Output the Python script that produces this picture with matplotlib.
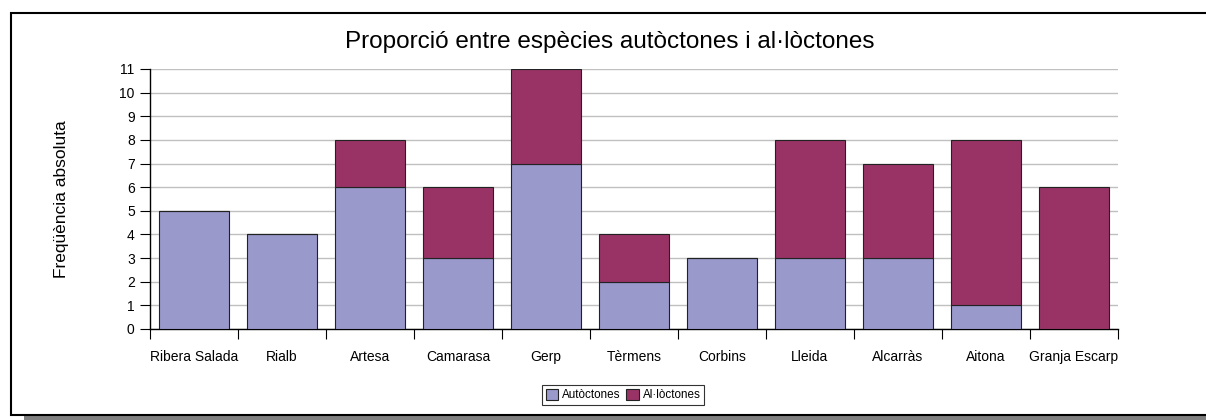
import numpy as np
import matplotlib.pyplot as plt
from matplotlib.patches import Rectangle

plt.rcParams['font.family'] = ['Liberation Sans', 'DejaVu Sans']

# data
llocs = ["Ribera Salada", "Rialb", "Artesa", "Camarasa", "Gerp", "Tèrmens",
         "Corbins", "Lleida", "Alcarràs", "Aitona", "Granja Escarp"]
autoctones = [5, 4, 6, 3, 7, 2, 3, 3, 3, 1, 0]
alloctones = [0, 0, 2, 3, 4, 2, 0, 5, 4, 7, 6]

fig = plt.figure(figsize=(12.06, 4.2), dpi=100)

# frame + shadow like the spreadsheet chart
fig.patches.append(Rectangle((24 / 1206, 0), 1.0, 4 / 420, transform=fig.transFigure,
                             facecolor='#808080', edgecolor='none', zorder=0))
fig.patches.append(Rectangle((11 / 1206, 5 / 420), 1.2, 402 / 420, transform=fig.transFigure,
                             facecolor='white', edgecolor='black', linewidth=1.5, zorder=1))

ax = fig.add_axes([150 / 1206, 91 / 420, 968 / 1206, 260 / 420])
ax.set_zorder(2)
ax.patch.set_alpha(0)

x = np.arange(len(llocs))
ax.bar(x, autoctones, width=0.8, color='#9999CC', edgecolor='#222222', linewidth=0.8,
       label='Autòctones', zorder=3)
ax.bar(x, alloctones, width=0.8, bottom=autoctones, color='#993366', edgecolor='#222222',
       linewidth=0.8, label='Al·lòctones', zorder=3)

ax.set_xlim(-0.5, len(llocs) - 0.5)
ax.set_ylim(0, 11)
ax.set_yticks(range(0, 12))
ax.yaxis.grid(True, color='#C0C0C0', linewidth=1)
ax.set_axisbelow(True)

ax.set_xticks(x)
ax.set_xticklabels(llocs, fontsize=10)
ax.set_xticks(np.arange(-0.5, len(llocs), 1), minor=True)
ax.tick_params(axis='x', which='major', length=0, pad=15)
ax.tick_params(axis='x', which='minor', length=7, width=0.8, direction='out')
ax.tick_params(axis='y', length=7, width=0.8, labelsize=10, pad=4)

for s in ['top', 'right']:
    ax.spines[s].set_visible(False)
ax.spines['left'].set_linewidth(1)
ax.spines['bottom'].set_linewidth(1)

ax.set_ylabel('Freqüència absoluta', fontsize=12.5, labelpad=36)
fig.text(610 / 1206, 1 - 42 / 420, 'Proporció entre espècies autòctones i al·lòctones',
         ha='center', va='center', fontsize=17.5)

leg = fig.legend(loc='center', bbox_to_anchor=(623 / 1206, 1 - 395 / 420), ncol=2,
                 fontsize=8.4, frameon=True, fancybox=False, edgecolor='black',
                 handlelength=1.1, handleheight=1.1, handletextpad=0.3,
                 columnspacing=0.5, borderpad=0.3, borderaxespad=0)
leg.get_frame().set_linewidth(0.8)
leg.set_zorder(5)

fig.savefig('out.png', dpi=100)
